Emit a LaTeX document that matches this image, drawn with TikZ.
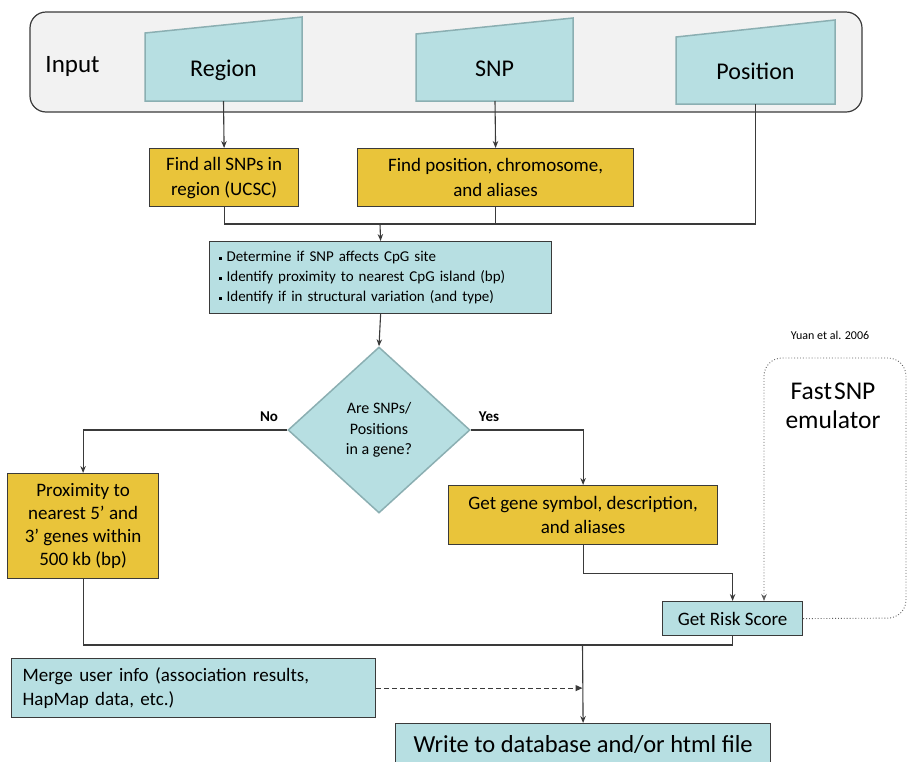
\documentclass[tikz,border=0pt]{standalone}
\usepackage{fontspec}
\setmainfont{Carlito}
\usetikzlibrary{arrows.meta,shapes.geometric}
\definecolor{lblue}{HTML}{B7DFE2}
\definecolor{ylw}{HTML}{E9C43A}
\definecolor{edge}{HTML}{3A3A3A}
\definecolor{tealedge}{HTML}{8BAFB2}
\definecolor{inbg}{HTML}{F2F2F2}
\tikzset{
  conn/.style={draw=edge, line width=1.1pt},
  arr/.style={-{Stealth[length=7pt,width=5.5pt]}},
  ybox/.style={draw=edge, line width=1.2pt, fill=ylw, inner sep=0pt, anchor=north west, align=center},
  bbox/.style={draw=edge, line width=1.2pt, fill=lblue, inner sep=0pt, anchor=north west, align=center},
  trap/.style={fill=lblue, draw=tealedge, line width=1.5pt},
  lbl/.style={font=\bfseries\fontsize{15}{18}\selectfont, anchor=base},
}
\begin{document}
\begin{tikzpicture}[x=1pt,y=-1pt]
\useasboundingbox (0,0) rectangle (908,761);

% Input group
\draw[draw=edge, line width=1.2pt, fill=inbg, rounded corners=16pt] (30,12) rectangle (862,112);
\node[font=\fontsize{25}{30}\selectfont, anchor=base] (input) at (72.5,72) {Input};

\path[trap] (145,33) -- (302,17) -- (302,101) -- (145,101) -- cycle;
\path[trap] (416,34) -- (573,18) -- (573,101) -- (416,101) -- cycle;
\path[trap] (676,37) -- (835,20) -- (835,104) -- (676,104) -- cycle;
\node[font=\fontsize{24}{28}\selectfont, anchor=base] (regiont) at (223.5,76) {Region};
\node[font=\fontsize{24}{28}\selectfont, anchor=base] (snpt) at (494.5,76) {SNP};
\node[font=\fontsize{24}{28}\selectfont, anchor=base] (post) at (755.5,79) {Position};
\coordinate (regionB) at (223.5,101);
\coordinate (snpB) at (495,101);
\coordinate (posB) at (755.5,104);

% boxes
\node[ybox, minimum width=149pt, minimum height=58pt, font=\fontsize{19}{25}\selectfont] (findall) at (149,148) {Find all SNPs in\\region (UCSC)};
\node[ybox, minimum width=276pt, minimum height=58pt, font=\fontsize{19}{25}\selectfont] (findpos) at (357,148) {Find position, chromosome,\\and aliases};
\node[bbox, minimum width=342pt, minimum height=72pt, text width=324pt, inner xsep=9pt, align=left, font=\fontsize{15}{20}\selectfont] (det) at (209,241)
 {\raisebox{0.25ex}{\rule{3pt}{3pt}} Determine if SNP affects CpG site\\
  \raisebox{0.25ex}{\rule{3pt}{3pt}} Identify proximity to nearest CpG island (bp)\\
  \raisebox{0.25ex}{\rule{3pt}{3pt}} Identify if in structural variation (and type)};
\node[diamond, draw=tealedge, line width=1.5pt, fill=lblue, minimum width=182pt, minimum height=166pt, inner sep=0pt, align=center, font=\fontsize{16}{20.5}\selectfont] (dec) at (379,430) {Are SNPs/\\Positions\\in a gene?};
\node[ybox, minimum width=151pt, minimum height=105pt, font=\fontsize{19}{23}\selectfont] (prox) at (7,473) {Proximity to\\nearest 5’ and\\3’ genes within\\500 kb (bp)};
\node[ybox, minimum width=269pt, minimum height=59pt, font=\fontsize{19}{24}\selectfont] (gene) at (448,485) {Get gene symbol, description,\\and aliases};
\node[bbox, minimum width=140pt, minimum height=34pt, font=\fontsize{19}{24}\selectfont] (risk) at (662,601) {Get Risk Score};
\node[bbox, minimum width=364pt, minimum height=59pt, text width=342pt, inner xsep=11pt, align=left, font=\fontsize{19}{24}\selectfont] (merge) at (11,658) {Merge user info (association results,\\HapMap data, etc.)};
\node[bbox, minimum width=375pt, minimum height=42pt, font=\fontsize{24.5}{28}\selectfont] (write) at (395,723) {Write to database and/or html file};

% FastSNP labels
\node[font=\fontsize{12}{14}\selectfont] (yuan) at (830,335) {Yuan et al. 2006};
\node[font=\fontsize{25.5}{29}\selectfont, align=center] (fast) at (833,406) {Fast\kern2pt SNP\\emulator};

% connectors
\draw[conn, arr] (regionB) -- (findall.north);
\draw[conn, arr] (snpB) -- (findpos.north);
\coordinate (j) at (380,224);
\draw[conn] (findall.south) |- (j);
\draw[conn] (findpos.south) |- (j);
\draw[conn] (posB) |- (j);
\draw[conn, arr] (j) -- (det.north);
\draw[conn, arr] (det.south) -- (dec.north);
\draw[conn, arr] (dec.west) -| (prox.north);
\draw[conn, arr] (dec.east) -| (gene.north);
\node[lbl] (no) at (269,421) {No};
\node[lbl] (yes) at (489,421) {Yes};
\draw[conn, arr] (gene.south) -- ++(0,28) -| (risk.north);
\coordinate (fr) at (906,618);
\coordinate (ft) at (764,358);
\draw[draw=edge!80, line width=0.9pt, dotted, rounded corners=18pt, arr] (risk.east) -- (fr) -- (fr |- ft) -- (ft) -- (ft |- risk.north);
\coordinate (m) at (582.5,645);
\draw[conn] (prox.south) |- (m);
\draw[conn] (risk.south) |- (m);
\draw[conn, arr] (m) -- (write.north);
\draw[conn, dashed, dash pattern=on 5pt off 3pt, -{Triangle[length=7pt,width=6pt]}] (merge.east) -- (merge.east -| m);
\end{tikzpicture}
\end{document}
